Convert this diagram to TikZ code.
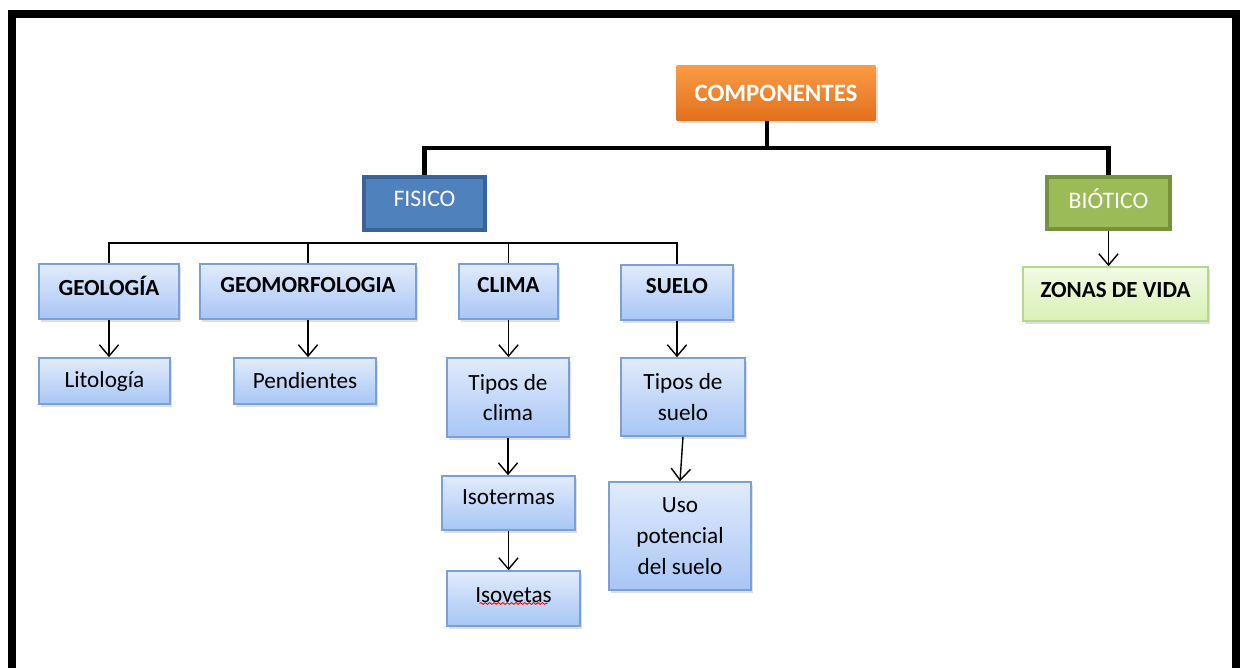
\documentclass[tikz,border=0pt]{standalone}
\usepackage{fontspec}
\setmainfont{Carlito}
\usepackage{xcolor}
\usetikzlibrary{positioning,arrows.meta,shadows,calc,decorations.pathmorphing}

\definecolor{orangetop}{HTML}{FB9B45}
\definecolor{orangebot}{HTML}{E2711D}
\definecolor{fisicofill}{HTML}{4F81BD}
\definecolor{fisicodraw}{HTML}{3A6497}
\definecolor{bioticofill}{HTML}{9BBB59}
\definecolor{bioticodraw}{HTML}{76923C}
\definecolor{bluetop}{HTML}{E1EBFB}
\definecolor{bluebot}{HTML}{A8C6F5}
\definecolor{bluedraw}{HTML}{7BA0D6}
\definecolor{greentop}{HTML}{F2FAE4}
\definecolor{greenbot}{HTML}{D9F0B5}
\definecolor{greendraw}{HTML}{B5D88E}

\begin{document}
\begin{tikzpicture}[
    x=0.02cm, y=-0.02cm,
    shade/.style={drop shadow={shadow xshift=1.2pt, shadow yshift=-1.5pt, opacity=0.25}},
    topbox/.style={rectangle, shade, top color=orangetop, bottom color=orangebot, text=white, align=center, font=\fontsize{14.2}{17}\selectfont\bfseries},
    catbox/.style={rectangle, draw, line width=2.2pt, text=white, text depth=5pt, align=center, font=\fontsize{13.5}{16}\selectfont},
    subbox/.style={rectangle, draw=bluedraw, line width=0.9pt, top color=bluetop, bottom color=bluebot, shade, align=center, font=\fontsize{13.2}{17.5}\selectfont},
    headbox/.style={subbox, text depth=7pt, font=\fontsize{13.1}{17.5}\selectfont\bfseries},
    trunk/.style={line width=2.3pt},
    rail/.style={line width=0.8pt},
    arrow/.style={-{Straight Barb[length=6.5pt,width=11pt]}, line width=0.8pt}
]
    \useasboundingbox (0,0) rectangle (1243,668);
    \begin{scope}
        \clip (0,0) rectangle (1243,668);
        \draw[line width=0.16cm] (12,720) -- (12,14) -- (1235.5,14) -- (1235.5,720);
    \end{scope}

    % top levels
    \node[topbox, minimum width=3.98cm, minimum height=1.1cm] (comp) at (776,93) {COMPONENTES};
    \node[catbox, fill=fisicofill, draw=fisicodraw, minimum width=2.42cm, minimum height=1.06cm] (fisico) at (424.5,203.5) {FISICO};
    \node[catbox, fill=bioticofill, draw=bioticodraw, minimum width=2.46cm, minimum height=1.04cm] (biotico) at (1108.5,203) {BIÓTICO};

    % physical components
    \node[headbox, minimum width=2.8cm, minimum height=1.1cm] (geol) at (109,291.5) {GEOLOGÍA};
    \node[headbox, minimum width=4.32cm, minimum height=1.1cm] (geomorf) at (308,291.5) {GEOMORFOLOGIA};
    \node[headbox, minimum width=1.98cm, minimum height=1.1cm] (clima) at (508.5,291.5) {CLIMA};
    \node[headbox, minimum width=2.24cm, minimum height=1.1cm] (suelo) at (677,292.5) {SUELO};
    \node[headbox, top color=greentop, bottom color=greenbot, draw=greendraw, text depth=5pt, minimum width=3.7cm, minimum height=1.08cm] (zonas) at (1115.5,294) {ZONAS DE VIDA};

    \node[subbox, minimum width=2.62cm, minimum height=0.92cm] (lito) at (104.5,381) {Litología};
    \node[subbox, minimum width=2.84cm, minimum height=0.92cm] (pend) at (305,381) {Pendientes};
    \node[subbox, minimum width=2.44cm, minimum height=1.58cm] (tclima) at (508,397.5) {Tipos de\\clima};
    \node[subbox, minimum width=2.48cm, minimum height=1.56cm] (tsuelo) at (683,397) {Tipos de\\suelo};
    \node[subbox, text depth=7pt, minimum width=2.66cm, minimum height=1.08cm] (isot) at (508.5,503) {Isotermas};
    \node[subbox, text depth=4pt, minimum width=2.66cm, minimum height=1.1cm] (isov) at (513.5,598.5) {Isovetas};
    \node[subbox, minimum width=2.84cm, minimum height=2.16cm] (uso) at (680,536) {Uso\\potencial\\del suelo};

    % connectors
    \draw[trunk] ([xshift=-0.18cm]comp.south) -- ++(0,27) coordinate (fork);
    \draw[trunk] (fisico.north) |- (fork) -| (biotico.north);

    \coordinate (bar) at (0,243);
    \draw[rail] (geol.north) -- (geol.north |- bar) -- (suelo.north |- bar) -- (suelo.north);
    \draw[rail] (geomorf.north) -- (geomorf.north |- bar);
    \draw[rail] (clima.north) -- (clima.north |- bar);

    \draw[arrow] (geol.south) -- (geol.south |- lito.north);
    \draw[arrow] (geomorf.south) -- (geomorf.south |- pend.north);
    \draw[arrow] (clima.south) -- (clima.south |- tclima.north);
    \draw[arrow] (tclima.south) -- (tclima.south |- isot.north);
    \draw[arrow] (isot.south) -- (isot.south |- isov.north);
    \draw[arrow] (suelo.south) -- (suelo.south |- tsuelo.north);
    \draw[arrow] (tsuelo.south) -- (uso.north);
    \draw[arrow] (biotico.south) -- (biotico.south |- zonas.north);

    % spell-check mark
    \draw[red, line width=0.5pt, decorate, decoration={snake, amplitude=0.5pt, segment length=2.5pt}]
        ($(isov.center)+(-34,5)$) -- ($(isov.center)+(34,5)$);
\end{tikzpicture}
\end{document}
